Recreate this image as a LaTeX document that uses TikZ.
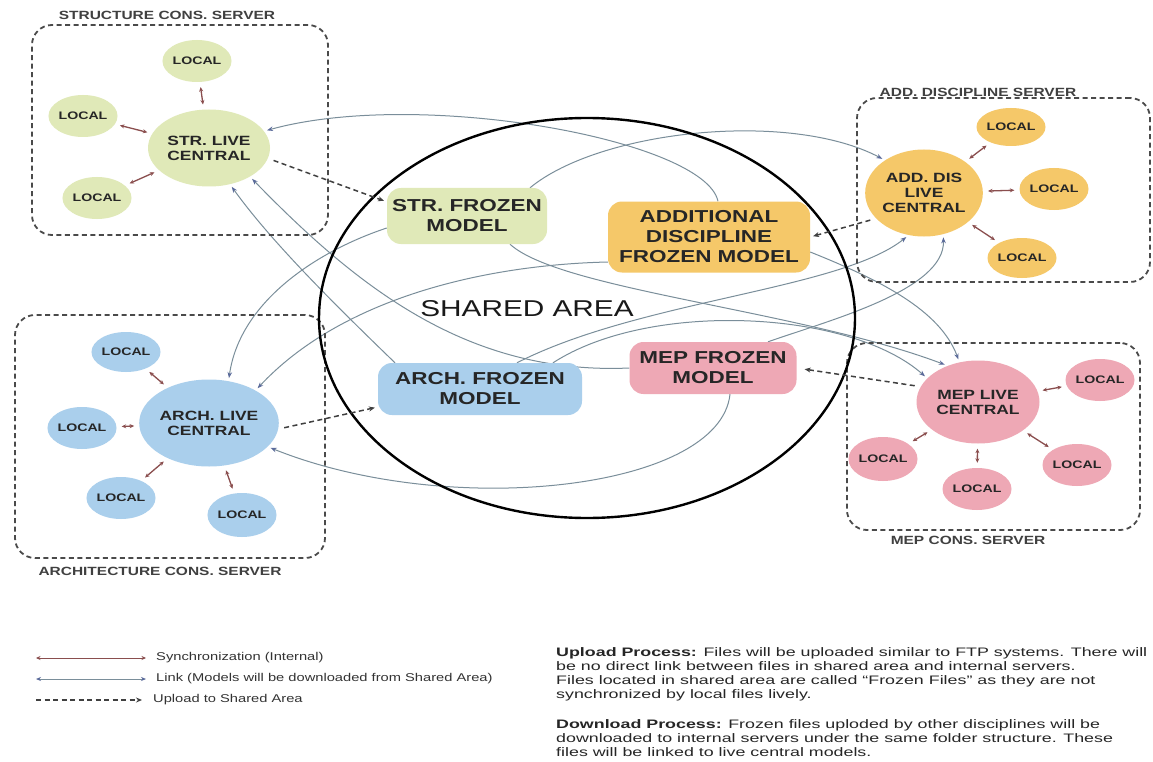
\documentclass[tikz,border=0pt]{standalone}
\usepackage{fontspec}
\setmainfont[FakeStretch=1.3]{Liberation Sans}
\newfontfamily\blockfont[FakeStretch=1.45]{Liberation Sans}
\usetikzlibrary{shapes.geometric,arrows.meta}
\definecolor{strc}{HTML}{E0E9B8}
\definecolor{addc}{HTML}{F5C869}
\definecolor{archc}{HTML}{AACFEC}
\definecolor{mepc}{HTML}{EEA8B5}
\definecolor{syncc}{HTML}{8A4E4E}
\definecolor{linkc}{HTML}{7A8E9A}
\definecolor{headc}{HTML}{5A6A9A}
\definecolor{srvc}{HTML}{4A4A4A}
\pgfdeclarelayer{bg}
\pgfsetlayers{bg,main}
\tikzset{
  base/.style={inner sep=0pt, align=center, text=black!85},
  loc/.style={base, ellipse, minimum width=60pt, minimum height=42pt, font=\fontsize{10.9}{12}\selectfont\bfseries},
  live/.style={base, ellipse, font=\fontsize{13.4}{15}\selectfont\bfseries},
  frz/.style={base, rectangle, rounded corners=14pt, font=\fontsize{17.3}{20}\selectfont\bfseries},
  server/.style={draw=srvc, line width=1.8pt, dash pattern=on 5pt off 3.5pt, rounded corners=20pt, inner sep=0pt},
  srvlabel/.style={font=\fontsize{11.9}{13}\selectfont\bfseries, text=black!75, inner sep=0pt},
  sync/.style={draw=syncc, line width=1.3pt, {Stealth[length=4.5pt,width=4pt]}-{Stealth[length=4.5pt,width=4pt]}, shorten <=5pt, shorten >=5pt},
  link/.style={draw=linkc, line width=1pt, -{Stealth[length=6pt,width=4.5pt,color=headc]}, shorten >=3pt},
  upload/.style={draw=black!75, line width=1.5pt, dash pattern=on 5pt off 3.5pt, -{Stealth[length=6pt,width=5pt]}, shorten <=6pt, shorten >=3pt},
  legtext/.style={anchor=west, font=\fontsize{11.3}{12}\selectfont, text=black!80, inner sep=0pt},
}
\begin{document}
\begin{tikzpicture}[x=1pt,y=-1pt]
\begin{pgfonlayer}{bg}
\fill[white] (0,0) rectangle (1153,762);
\end{pgfonlayer}
\useasboundingbox (0,0) rectangle (1153,762);

% server boxes
\node[server, minimum width=296pt, minimum height=210pt] (strsrv) at (180,130) {};
\node[server, minimum width=293pt, minimum height=184pt] (addsrv) at (1003.5,190) {};
\node[server, minimum width=310pt, minimum height=243pt] (archsrv) at (170,436.5) {};
\node[server, minimum width=293pt, minimum height=187pt] (mepsrv) at (993.5,436.5) {};
\node[srvlabel] (strlab) at (167,15) {STRUCTURE CONS. SERVER};
\node[srvlabel] (addlab) at (978,92) {ADD. DISCIPLINE SERVER};
\node[srvlabel] (archlab) at (160,571) {ARCHITECTURE CONS. SERVER};
\node[srvlabel] (meplab) at (968,540) {MEP CONS. SERVER};

% shared area
\node[ellipse, draw=black, line width=2.4pt, minimum width=536pt, minimum height=400pt, inner sep=0pt] (shared) at (587,318) {};
\node[font=\fontsize{22.9}{24}\selectfont, text=black!90, inner sep=0pt] (sharedlab) at (527,309) {SHARED AREA};

% structure
\node[live, fill=strc, minimum width=122pt, minimum height=77pt] (strlive) at (209,148) {STR. LIVE\\CENTRAL};
\node[loc, fill=strc] (strl1) at (197,61) {LOCAL};
\node[loc, fill=strc] (strl2) at (83,116) {LOCAL};
\node[loc, fill=strc] (strl3) at (97,198) {LOCAL};

% additional discipline
\node[live, fill=addc, minimum width=115pt, minimum height=87pt] (addlive) at (924,193) {ADD. DIS\\LIVE\\CENTRAL};
\node[loc, fill=addc, minimum height=38pt] (addl1) at (1011,127) {LOCAL};
\node[loc, fill=addc] (addl2) at (1054,189) {LOCAL};
\node[loc, fill=addc, minimum height=40pt] (addl3) at (1022,258) {LOCAL};

% architecture
\node[live, fill=archc, minimum width=122pt, minimum height=87pt] (archlive) at (209,423) {ARCH. LIVE\\CENTRAL};
\node[loc, fill=archc, minimum height=40pt] (archl1) at (126,352) {LOCAL};
\node[loc, fill=archc] (archl2) at (82,428) {LOCAL};
\node[loc, fill=archc] (archl3) at (121,498) {LOCAL};
\node[loc, fill=archc, minimum height=44pt] (archl4) at (242,515) {LOCAL};

% mep
\node[live, fill=mepc, minimum width=123pt, minimum height=83pt] (meplive) at (978,402) {MEP LIVE\\CENTRAL};
\node[loc, fill=mepc] (mepl1) at (1100,380) {LOCAL};
\node[loc, fill=mepc, minimum height=44pt] (mepl2) at (883,459) {LOCAL};
\node[loc, fill=mepc] (mepl3) at (977,489) {LOCAL};
\node[loc, fill=mepc] (mepl4) at (1077,465) {LOCAL};

% frozen models
\node[frz, fill=strc, minimum width=160pt, minimum height=56pt] (strfz) at (467,216) {STR. FROZEN\\MODEL};
\node[frz, fill=addc, minimum width=202pt, minimum height=71pt] (addfz) at (709,237) {ADDITIONAL\\DISCIPLINE\\FROZEN MODEL};
\node[frz, fill=archc, minimum width=204pt, minimum height=52pt] (archfz) at (480,389) {ARCH. FROZEN\\MODEL};
\node[frz, fill=mepc, minimum width=167pt, minimum height=52pt] (mepfz) at (713,368) {MEP FROZEN\\MODEL};

\begin{pgfonlayer}{bg}
% links
\draw[link] ([xshift=9pt]addfz.north) .. controls (705,140) and (420,88) .. (strlive.17);
\draw[link] ([xshift=63pt]strfz.north) .. controls (600,130) and (790,110) .. (addlive.140);
\draw[link] ([xshift=-85pt]archfz.north) .. controls (330,300) and (270,240) .. (strlive.-60);
\draw[link] (mepfz.west) .. controls (470,375) and (360,290) .. (strlive.-35);
\draw[link] ([yshift=-12pt]strfz.west) .. controls (320,250) and (240,300) .. (archlive.65);
\draw[link] ([yshift=-25pt]addfz.west) .. controls (480,265) and (340,300) .. (archlive.35);
\draw[link] ([xshift=17pt]mepfz.south) .. controls (720,490) and (450,520) .. (archlive.-22);
\draw[link] ([xshift=43pt]strfz.south) .. controls (560,290) and (800,310) .. (meplive.130);
\draw[link] ([yshift=-15pt]addfz.east) .. controls (880,280) and (940,310) .. (meplive.115);
\draw[link] ([xshift=73pt]archfz.north) .. controls (650,300) and (850,310) .. (meplive.155);
\draw[link] ([xshift=37pt]archfz.north) .. controls (640,300) and (840,290) .. (addlive.-110);
\draw[link] ([xshift=55pt]mepfz.north) .. controls (830,320) and (945,290) .. (addlive.-65);
\end{pgfonlayer}

% uploads
\draw[upload] (strlive.-10) -- (strfz.170);
\draw[upload] (addlive.208) -- (addfz.east);
\draw[upload] (archlive.-5) -- (archfz.190);
\draw[upload, shorten >=8pt] (meplive.165) -- (mepfz.east);

% synchronization
\foreach \l in {strl1,strl2,strl3} \draw[sync] (\l) -- (strlive);
\foreach \l in {addl1,addl2,addl3} \draw[sync] (\l) -- (addlive);
\foreach \l in {archl1,archl2,archl3,archl4} \draw[sync] (\l) -- (archlive);
\foreach \l in {mepl1,mepl2,mepl3,mepl4} \draw[sync] (\l) -- (meplive);

% legend
\coordinate (s1) at (36,658); \coordinate (s2) at (146,658);
\coordinate (k1) at (36,679); \coordinate (k2) at (146,679);
\coordinate (u1) at (36,700); \coordinate (u2) at (142,700);
\draw[sync, shorten <=0pt, shorten >=0pt, line width=1pt] (s1) -- (s2);
\draw[draw=linkc, line width=1pt, {Stealth[length=5pt,width=4pt,color=headc]}-{Stealth[length=5pt,width=4pt,color=headc]}] (k1) -- (k2);
\draw[upload, shorten <=0pt, shorten >=0pt, line width=1.3pt] (u1) -- (u2);
\node[legtext] (lt1) at (156,658) {Synchronization (Internal)};
\node[legtext] (lt2) at (156,679) {Link (Models will be downloaded from Shared Area)};
\node[legtext] (lt3) at (153,700) {Upload to Shared Area};

% text block
\node[anchor=north west, align=left, inner sep=0pt, text=black!85, font=\blockfont\fontsize{12.3}{14}\selectfont] (txt) at (556,647) {%
\textbf{Upload Process:} Files will be uploaded similar to FTP systems. There will\\
be no direct link between files in shared area and internal servers.\\
Files located in shared area are called “Frozen Files” as they are not\\
synchronized by local files lively.\\[16pt]
\textbf{Download Process:} Frozen files uploded by other disciplines will be\\
downloaded to internal servers under the same folder structure. These\\
files will be linked to live central models.};
\end{tikzpicture}
\end{document}
